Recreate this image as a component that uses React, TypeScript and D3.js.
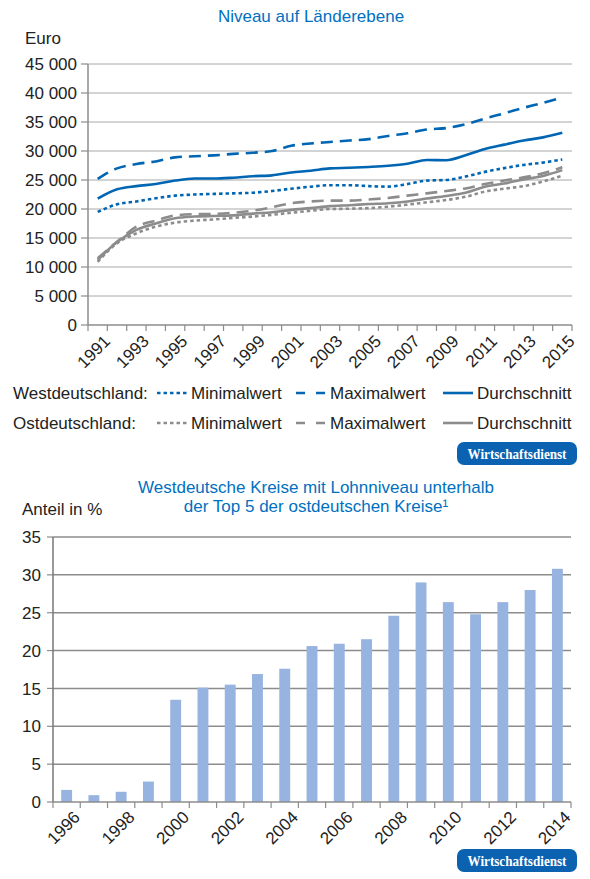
import { useEffect, useRef } from "react"
import * as d3 from "d3"

// Top chart: wage level on Länder level (euro)
const years = d3.range(1991, 2016)
const westMin = [19500, 20800, 21300, 21850, 22300, 22500, 22600, 22700, 22800, 23100, 23500, 23850, 24100, 24100, 23950, 23850, 24300, 24900, 25000, 25600, 26400, 27050, 27600, 28000, 28550]
const westMax = [25200, 27000, 27750, 28200, 28900, 29100, 29250, 29500, 29700, 30000, 30900, 31300, 31550, 31800, 32050, 32600, 33050, 33700, 33950, 34600, 35600, 36500, 37450, 38300, 39250]
const westAvg = [21800, 23400, 23950, 24300, 24900, 25250, 25250, 25400, 25650, 25800, 26300, 26600, 27000, 27100, 27250, 27450, 27800, 28450, 28400, 29250, 30350, 31100, 31800, 32350, 33150]
const eastMin = [10900, 14100, 15800, 16950, 17650, 18000, 18200, 18450, 18700, 19000, 19350, 19700, 20000, 20050, 20150, 20400, 20750, 21150, 21550, 22100, 23000, 23500, 23950, 24750, 25750]
const eastMax = [11500, 14350, 16950, 18000, 18900, 19100, 19150, 19350, 19700, 20300, 21000, 21300, 21450, 21450, 21650, 21900, 22300, 22700, 23100, 23550, 24300, 24900, 25450, 26150, 27200]
const eastAvg = [11200, 14300, 16400, 17500, 18400, 18700, 18800, 18900, 19200, 19450, 19850, 20150, 20500, 20650, 20850, 21000, 21300, 21800, 22250, 22800, 23850, 24400, 25100, 25700, 26700]
const euroTicks = d3.range(0, 45001, 5000)

// Bottom chart: share of west German districts (%)
const barYears = d3.range(1996, 2015)
const shares = [1.6, 0.9, 1.35, 2.7, 13.5, 15.1, 15.5, 16.9, 17.6, 20.6, 20.9, 21.5, 24.6, 29.0, 26.4, 24.8, 26.4, 28.0, 30.8]
const shareTicks = d3.range(0, 36, 5)

const BLUE = "#0066b3"
const GRAY = "#8c8c8c"
const TITLE = "#0070c0"
const BAR = "#97b4e0"
const FONT = "'Liberation Sans', Arial, sans-serif"

export default function App() {
  const svgRef = useRef<SVGSVGElement | null>(null)

  useEffect(() => {
    const svg = d3.select(svgRef.current)
    svg.selectAll("*").remove()
    svg.attr("font-family", FONT)

    // ---------- top chart ----------
    const x = d3.scaleBand<number>().domain(years).range([88, 572]).padding(0)
    const y = d3.scaleLinear().domain([0, 45000]).range([325, 64])
    const cx = (yr: number) => (x(yr) ?? 0) + x.bandwidth() / 2

    svg.append("text").attr("x", 311).attr("y", 22).attr("text-anchor", "middle")
      .attr("font-size", 17).attr("fill", TITLE).text("Niveau auf Länderebene")
    svg.append("text").attr("x", 25).attr("y", 44).attr("font-size", 17).attr("fill", "#222").text("Euro")

    const top = svg.append("g")
    top.selectAll(".grid").data(euroTicks.filter((d) => d > 0)).enter().append("line")
      .attr("x1", 88).attr("x2", 572).attr("y1", (d) => y(d)).attr("y2", (d) => y(d))
      .attr("stroke", "#a8a8a8").attr("stroke-width", 1)
    top.selectAll(".ytick").data(euroTicks).enter().append("line")
      .attr("x1", 81).attr("x2", 88).attr("y1", (d) => y(d)).attr("y2", (d) => y(d))
      .attr("stroke", GRAY).attr("stroke-width", 1.2)
    top.selectAll(".ylab").data(euroTicks).enter().append("text")
      .attr("x", 77).attr("y", (d) => y(d)).attr("dy", "0.36em").attr("text-anchor", "end")
      .attr("font-size", 17).attr("fill", "#222")
      .text((d) => (d >= 1000 ? `${Math.floor(d / 1000)} ${String(d % 1000).padStart(3, "0")}` : String(d)))
    top.append("line").attr("x1", 88).attr("x2", 88).attr("y1", 64).attr("y2", 325)
      .attr("stroke", GRAY).attr("stroke-width", 1.5)
    top.append("line").attr("x1", 88).attr("x2", 572).attr("y1", 325).attr("y2", 325)
      .attr("stroke", GRAY).attr("stroke-width", 1.5)
    top.selectAll(".xtick").data([...years, 2016]).enter().append("line")
      .attr("x1", (d) => (d === 2016 ? 572 : x(d) ?? 0)).attr("x2", (d) => (d === 2016 ? 572 : x(d) ?? 0))
      .attr("y1", 325).attr("y2", 331).attr("stroke", GRAY).attr("stroke-width", 1.2)
    top.selectAll(".xlab").data(years.filter((d) => (d - 1991) % 2 === 0)).enter().append("text")
      .attr("transform", (d) => `translate(${cx(d) + 5},${334}) rotate(-45)`)
      .attr("text-anchor", "end").attr("dy", "0.7em").attr("font-size", 17).attr("fill", "#222")
      .text((d) => d)

    const line = d3.line<number>().x((_, i) => cx(years[i])).y((d) => y(d)).curve(d3.curveMonotoneX)
    const series: [number[], string, string][] = [
      [eastMin, GRAY, "3.5,3"],
      [eastAvg, GRAY, ""],
      [eastMax, GRAY, "12,7"],
      [westMin, BLUE, "3.5,3"],
      [westAvg, BLUE, ""],
      [westMax, BLUE, "12,7"],
    ]
    series.forEach(([vals, col, dash]) => {
      top.append("path").datum(vals).attr("d", line).attr("fill", "none")
        .attr("stroke", col).attr("stroke-width", 2.6).attr("stroke-dasharray", dash || null)
    })

    // legend
    const legend = svg.append("g").attr("font-size", 17).attr("fill", "#222")
    const rows: [string, string, number][] = [
      ["Westdeutschland:", BLUE, 399],
      ["Ostdeutschland:", GRAY, 429],
    ]
    const items: [string, string, number, number, number][] = [
      ["Minimalwert", "3.5,3", 157, 187, 191],
      ["Maximalwert", "9,11", 296, 326, 330],
      ["Durchschnitt", "", 443, 473, 477],
    ]
    rows.forEach(([label, col, base]) => {
      legend.append("text").attr("x", 13).attr("y", base).text(label)
      items.forEach(([name, dash, x1, x2, tx]) => {
        legend.append("line").attr("x1", x1).attr("x2", x2).attr("y1", base - 6).attr("y2", base - 6)
          .attr("stroke", col).attr("stroke-width", 2.6).attr("stroke-dasharray", dash || null)
        legend.append("text").attr("x", tx).attr("y", base).text(name)
      })
    })

    // ---------- bottom chart ----------
    const bx = d3.scaleBand<number>().domain(barYears).range([53, 571]).padding(0)
    const by = d3.scaleLinear().domain([0, 35]).range([802, 537])
    const bcx = (yr: number) => (bx(yr) ?? 0) + bx.bandwidth() / 2
    const barW = bx.bandwidth() * 0.4

    svg.append("text").attr("x", 316).attr("y", 493).attr("text-anchor", "middle")
      .attr("font-size", 17).attr("fill", TITLE).text("Westdeutsche Kreise mit Lohnniveau unterhalb")
    svg.append("text").attr("x", 316).attr("y", 512).attr("text-anchor", "middle")
      .attr("font-size", 17).attr("fill", TITLE).text("der Top 5 der ostdeutschen Kreise¹")
    svg.append("text").attr("x", 22).attr("y", 515).attr("font-size", 17).attr("fill", "#222").text("Anteil in %")

    const bot = svg.append("g")
    bot.selectAll(".grid").data(shareTicks.filter((d) => d > 0)).enter().append("line")
      .attr("x1", 53).attr("x2", 571).attr("y1", (d) => by(d)).attr("y2", (d) => by(d))
      .attr("stroke", "#8c8c8c").attr("stroke-width", 1.5)
    bot.selectAll(".ytick").data(shareTicks).enter().append("line")
      .attr("x1", 47).attr("x2", 53).attr("y1", (d) => by(d)).attr("y2", (d) => by(d))
      .attr("stroke", GRAY).attr("stroke-width", 1.2)
    bot.selectAll(".ylab").data(shareTicks).enter().append("text")
      .attr("x", 41).attr("y", (d) => by(d)).attr("dy", "0.36em").attr("text-anchor", "end")
      .attr("font-size", 17).attr("fill", "#222").text((d) => d)

    bot.selectAll(".bar").data(shares).enter().append("rect")
      .attr("x", (_, i) => bcx(barYears[i]) - barW / 2).attr("width", barW)
      .attr("y", (d) => by(d)).attr("height", (d) => by(0) - by(d)).attr("fill", BAR)

    bot.append("line").attr("x1", 53).attr("x2", 53).attr("y1", 537).attr("y2", 802)
      .attr("stroke", "#777").attr("stroke-width", 1.5)
    bot.append("line").attr("x1", 53).attr("x2", 571).attr("y1", 802).attr("y2", 802)
      .attr("stroke", GRAY).attr("stroke-width", 1.5)
    bot.selectAll(".xtick").data([...barYears, 2015]).enter().append("line")
      .attr("x1", (d) => (d === 2015 ? 571 : bx(d) ?? 0)).attr("x2", (d) => (d === 2015 ? 571 : bx(d) ?? 0))
      .attr("y1", 802).attr("y2", 808).attr("stroke", GRAY).attr("stroke-width", 1.2)
    bot.selectAll(".xlab").data(barYears.filter((d) => (d - 1996) % 2 === 0)).enter().append("text")
      .attr("transform", (d) => `translate(${bcx(d) + 6},${810}) rotate(-45)`)
      .attr("text-anchor", "end").attr("dy", "0.7em").attr("font-size", 17).attr("fill", "#222")
      .text((d) => d)

    // badges
    const badge = (bx0: number, by0: number) => {
      svg.append("rect").attr("x", bx0).attr("y", by0).attr("width", 120).attr("height", 23)
        .attr("rx", 7).attr("fill", "#0a62b0")
      svg.append("text").attr("x", bx0 + 60).attr("y", by0 + 16.5).attr("text-anchor", "middle")
        .attr("font-family", "'Liberation Serif', 'Times New Roman', serif").attr("font-size", 15)
        .attr("font-weight", "bold")
        .attr("textLength", 99).attr("lengthAdjust", "spacingAndGlyphs")
        .attr("fill", "#fff").text("Wirtschaftsdienst")
    }
    badge(457, 442)
    badge(457, 849)
  }, [])

  return (
    <svg
      ref={svgRef}
      width={590}
      height={879}
      style={{ position: "absolute", left: 0, top: 0, background: "#fff" }}
    />
  )
}
